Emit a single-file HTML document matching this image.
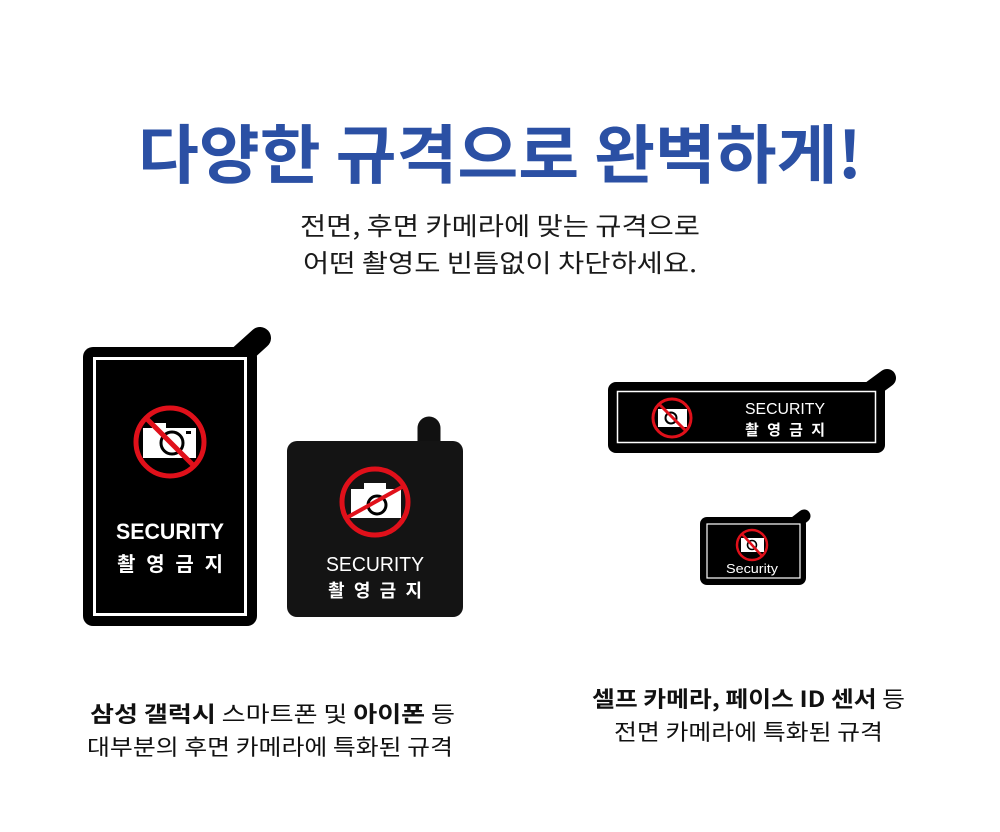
<!DOCTYPE html>
<html><head><meta charset="utf-8"><style>
html,body{margin:0;padding:0;background:#fff;}
svg{display:block}
text{font-family:"Liberation Sans","Noto Sans CJK KR",sans-serif;}
.k{font-family:"Noto Sans CJK KR","Liberation Sans",sans-serif;}
</style></head><body>
<svg width="1000" height="832" viewBox="0 0 1000 832" xmlns="http://www.w3.org/2000/svg">
<rect width="1000" height="832" fill="#fff"/>
<text class="k" x="138" y="178" font-size="64" font-weight="700" fill="#2b50a4" textLength="724" lengthAdjust="spacingAndGlyphs">다양한 규격으로 완벽하게!</text>
<text class="k" x="300" y="235" font-size="25" font-weight="400" fill="#1a1a1a" textLength="400" lengthAdjust="spacingAndGlyphs">전면, 후면 카메라에 맞는 규격으로</text>
<text class="k" x="303" y="272" font-size="25" font-weight="400" fill="#1a1a1a" textLength="394" lengthAdjust="spacingAndGlyphs">어떤 촬영도 빈틈없이 차단하세요.</text>

<line x1="240" y1="356" x2="260" y2="338" stroke="#000" stroke-width="22" stroke-linecap="round"/>
<rect x="83" y="347" width="174" height="279" rx="10" fill="#000"/>
<rect x="94.5" y="358.5" width="151" height="256" fill="none" stroke="#fff" stroke-width="3"/>
<g>
<circle cx="170" cy="442" r="34" fill="none" stroke="#e0101a" stroke-width="5"/>
<rect x="143" y="428" width="53" height="30" fill="#fff"/>
<rect x="152" y="423" width="14" height="6" fill="#fff"/>
<circle cx="172" cy="443" r="11" fill="none" stroke="#000" stroke-width="3"/>
<rect x="186" y="431" width="5" height="3" fill="#000"/>
<line x1="146" y1="418" x2="195" y2="467" stroke="#e0101a" stroke-width="5"/>
</g>
<text x="170" y="539" font-size="22" font-weight="700" fill="#fff" text-anchor="middle" textLength="108" lengthAdjust="spacingAndGlyphs">SECURITY</text>
<text class="k" x="117" y="571" font-size="20" font-weight="700" fill="#fff" textLength="106" lengthAdjust="spacing">촬 영 금 지</text>

<line x1="429" y1="428" x2="429" y2="446" stroke="#111" stroke-width="23" stroke-linecap="round"/>
<rect x="287" y="441" width="176" height="176" rx="10" fill="#141414"/>
<circle cx="375" cy="502" r="33" fill="none" stroke="#e0101a" stroke-width="5"/>
<rect x="351" y="489" width="50" height="29" fill="#fff"/>
<rect x="364" y="483" width="22" height="7" fill="#fff"/>
<circle cx="377" cy="505" r="9" fill="none" stroke="#000" stroke-width="3"/>
<line x1="348" y1="517" x2="402" y2="487" stroke="#e0101a" stroke-width="4"/>
<text x="375" y="571" font-size="20" fill="#fff" text-anchor="middle" textLength="98" lengthAdjust="spacingAndGlyphs">SECURITY</text>
<text class="k" x="328" y="597" font-size="18" font-weight="700" fill="#fff" textLength="94" lengthAdjust="spacing">촬 영 금 지</text>

<line x1="872" y1="389" x2="887" y2="378" stroke="#000" stroke-width="18" stroke-linecap="round"/>
<rect x="608" y="382" width="277" height="71" rx="8" fill="#000"/>
<rect x="617.5" y="391.5" width="258" height="51" fill="none" stroke="#fff" stroke-width="1.5"/>
<circle cx="672" cy="418" r="19" fill="none" stroke="#e0101a" stroke-width="3"/>
<rect x="658" y="409" width="29" height="18" fill="#fff"/>
<circle cx="671" cy="418" r="5.5" fill="none" stroke="#000" stroke-width="2"/>
<line x1="659" y1="404" x2="686" y2="431" stroke="#e0101a" stroke-width="3"/>
<text x="785" y="414" font-size="16" fill="#fff" text-anchor="middle" textLength="80" lengthAdjust="spacingAndGlyphs">SECURITY</text>
<text class="k" x="745" y="435" font-size="15" font-weight="700" fill="#fff" textLength="80" lengthAdjust="spacing">촬 영 금 지</text>

<line x1="795" y1="523" x2="804" y2="516" stroke="#000" stroke-width="13" stroke-linecap="round"/>
<rect x="700" y="517" width="106" height="68" rx="7" fill="#000"/>
<rect x="707" y="524" width="93" height="54" fill="none" stroke="#fff" stroke-width="1.2"/>
<circle cx="752" cy="545" r="15" fill="none" stroke="#e0101a" stroke-width="2.5"/>
<rect x="741" y="538" width="23" height="14" fill="#fff"/>
<circle cx="752" cy="545" r="4.5" fill="none" stroke="#000" stroke-width="1.6"/>
<line x1="742" y1="534" x2="762" y2="556" stroke="#e0101a" stroke-width="2.5"/>
<text x="752" y="573" font-size="13" fill="#fff" text-anchor="middle" textLength="52" lengthAdjust="spacingAndGlyphs">Security</text>

<text class="k" x="90" y="722" font-size="22" fill="#111" textLength="365" lengthAdjust="spacingAndGlyphs"><tspan font-weight="700">삼성 갤럭시</tspan> 스마트폰 및 <tspan font-weight="700">아이폰</tspan> 등</text>
<text class="k" x="87" y="755" font-size="22" fill="#111" textLength="366" lengthAdjust="spacingAndGlyphs">대부분의 후면 카메라에 특화된 규격</text>
<text class="k" x="592" y="707" font-size="22" fill="#111" textLength="313" lengthAdjust="spacingAndGlyphs"><tspan font-weight="700">셀프 카메라, 페이스 ID 센서</tspan> 등</text>
<text class="k" x="614" y="740" font-size="22" fill="#111" textLength="269" lengthAdjust="spacingAndGlyphs">전면 카메라에 특화된 규격</text>
</svg>
</body></html>
